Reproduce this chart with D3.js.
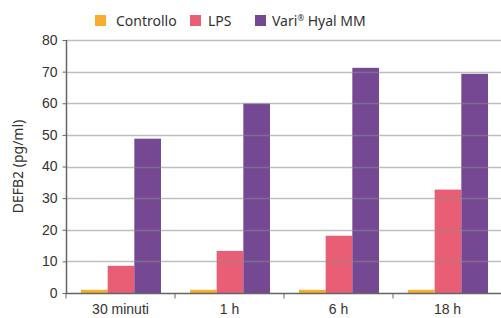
<!DOCTYPE html>
<html>
<head>
<meta charset="utf-8">
<script src="https://cdn.jsdelivr.net/npm/d3@7"></script>
<style>
  body { margin: 0; background: #fff; }
  svg { display: block; font-family: "Noto Sans", "Open Sans", sans-serif; }
</style>
</head>
<body>
<div class="chart__container"></div>
<script>
/*-------------------------------------INIT-------------------------------------*/

const CHART__WIDTH = 501;
const CHART__HEIGHT = 318;

const MARGIN = { top: 40, right: 0, bottom: 25, left: 66 };

const CATEGORIES = ["30 minuti", "1 h", "6 h", "18 h"];
const SERIES = ["Controllo", "LPS", "Vari® Hyal MM"];
const CONTROLLO = [1.0, 1.0, 1.0, 1.0];
const LPS = [8.6, 13.3, 18.1, 32.7];
const VARI = [48.8, 59.9, 71.2, 69.3];
const Y_TICKS = [0, 10, 20, 30, 40, 50, 60, 70, 80];
const COLORS = ["#f9ae2b", "#e95e74", "#744892"];

const VALUES = [CONTROLLO, LPS, VARI];

/*-------------------------------------Graph-------------------------------------*/

const SVG = d3.select(".chart__container").append("svg")
    .attr("width", CHART__WIDTH)
    .attr("height", CHART__HEIGHT);

const x = d3.scaleBand()
    .domain(CATEGORIES)
    .range([MARGIN.left, 502])
    .paddingInner(0)
    .paddingOuter(0);

const xInner = d3.scaleBand()
    .domain(SERIES)
    .range([15, x.bandwidth() - 14]);

const y = d3.scaleLinear()
    .domain([0, 80])
    .range([293, 40]);

const color = d3.scaleOrdinal().domain(SERIES).range(COLORS);

// bars
const groups = SVG.append("g")
    .selectAll("g")
    .data(CATEGORIES)
    .join("g")
    .attr("transform", d => `translate(${x(d)},0)`);

groups.selectAll("rect")
    .data((d, i) => SERIES.map((s, j) => ({ s, v: VALUES[j][i] })))
    .join("rect")
    .attr("x", d => xInner(d.s))
    .attr("width", xInner.bandwidth())
    .attr("y", d => y(d.v))
    .attr("height", d => y(0) - y(d.v))
    .attr("fill", d => color(d.s));

// gridlines
SVG.append("g")
    .selectAll("line")
    .data(Y_TICKS.filter(t => t > 0))
    .join("line")
    .attr("x1", MARGIN.left)
    .attr("x2", CHART__WIDTH)
    .attr("y1", d => Math.round(y(d)) + 0.5)
    .attr("y2", d => Math.round(y(d)) + 0.5)
    .attr("stroke", "#8a8a8a")
    .attr("stroke-opacity", 0.55)
    .attr("stroke-width", 1.5);

// y axis
const yAxis = SVG.append("g")
    .attr("transform", `translate(${MARGIN.left + 0.5},0)`)
    .call(d3.axisLeft(y).tickValues(Y_TICKS).tickSize(4).tickPadding(5));

// x axis
const xAxis = SVG.append("g")
    .attr("transform", `translate(0,${Math.round(y(0)) + 0.5})`)
    .call(d3.axisBottom(x).tickSize(0).tickPadding(11));

xAxis.selectAll(".tick")
    .append("line")
    .attr("x1", -x.bandwidth() / 2)
    .attr("x2", -x.bandwidth() / 2)
    .attr("y2", 5)
    .attr("stroke", "#666");

[yAxis, xAxis].forEach(a => {
    a.select(".domain").attr("stroke", "#666").attr("stroke-width", 1.5);
    a.selectAll(".tick line").attr("stroke", "#666");
    a.selectAll("text").attr("fill", "#333").style("font-size", "14px");
});
yAxis.select(".domain").attr("d", `M0,${y(80)}V${y(0)}`);
xAxis.select(".domain").attr("d", `M${MARGIN.left},0H${CHART__WIDTH}`);

// y title
SVG.append("text")
    .attr("transform", `translate(23,${(y(0) + y(80)) / 2}) rotate(-90)`)
    .attr("text-anchor", "middle")
    .attr("fill", "#333")
    .style("font-size", "14px")
    .text("DEFB2 (pg/ml)");

// legend
const LEGEND_X = [95, 190, 255];
const LEGEND_GAP = [21, 18, 17];
const legend = SVG.append("g")
    .selectAll("g")
    .data(SERIES)
    .join("g")
    .attr("transform", (d, i) => `translate(${LEGEND_X[i]},15)`);

legend.append("rect")
    .attr("width", 11)
    .attr("height", 11)
    .attr("fill", d => color(d));

const legendText = legend.append("text")
    .attr("x", (d, i) => LEGEND_GAP[i])
    .attr("y", 11)
    .attr("fill", "#333")
    .style("font-size", "14px");

legendText.each(function(d) {
    const t = d3.select(this);
    const parts = d.split("®");
    t.append("tspan").text(parts[0]);
    if (parts.length > 1) {
        t.append("tspan")
            .attr("dy", -5)
            .style("font-size", "8px")
            .text("®");
        t.append("tspan")
            .attr("dy", 5)
            .text(parts[1]);
    }
});
</script>
</body>
</html>
